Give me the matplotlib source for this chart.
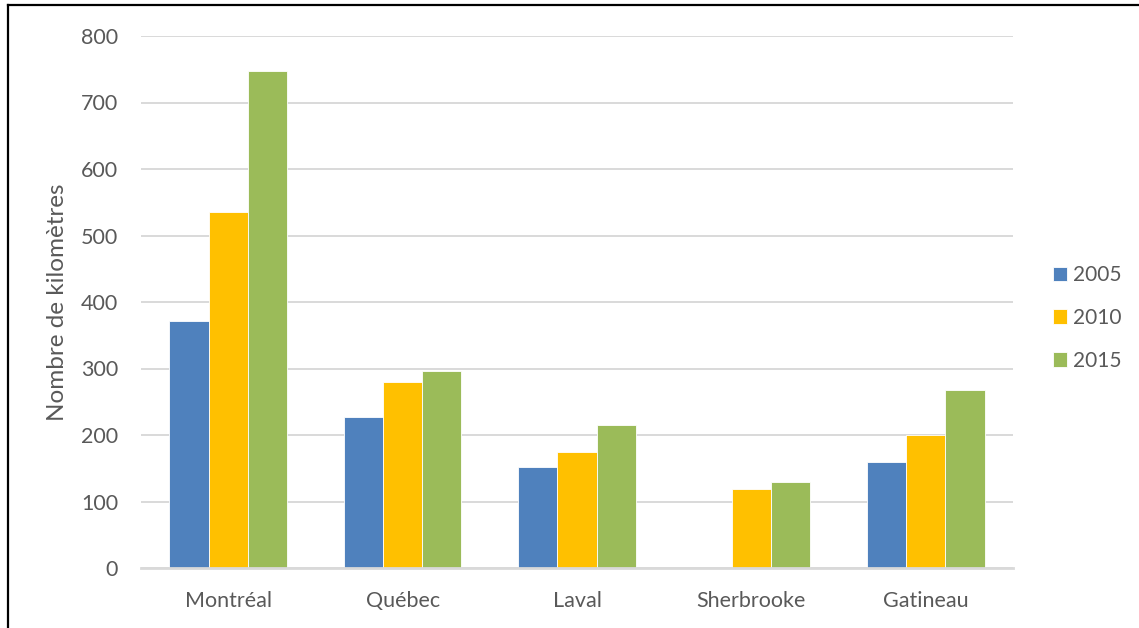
import matplotlib
matplotlib.use("Agg")
import matplotlib.pyplot as plt
import numpy as np
from matplotlib.lines import Line2D

cities = ["Montréal", "Québec", "Laval", "Sherbrooke", "Gatineau"]
years = ["2005", "2010", "2015"]
v2005 = [371, 227, 152, 0, 159]
v2010 = [535, 280, 174, 119, 200]
v2015 = [747, 296, 215, 129, 268]
colors = ["#4F81BD", "#FFC000", "#9BBB59"]
yticks = [0, 100, 200, 300, 400, 500, 600, 700, 800]

plt.rcParams['font.family'] = ['Lato', 'DejaVu Sans']
txt = "#595959"

fig = plt.figure(figsize=(11.39, 6.28), dpi=100)
ax = fig.add_axes([141/1139, 1-568/628, (1013-141)/1139, (568-36)/628])

x = np.arange(len(cities))
w = 0.225
for i, (vals, c, lab) in enumerate(zip([v2005, v2010, v2015], colors, years)):
    ax.bar(x + (i-1)*w, vals, width=w, color=c, label=lab, edgecolor="white", linewidth=0.6, zorder=3)

ax.set_xlim(-0.5, len(cities)-0.5)
ax.set_ylim(0, 800)
ax.set_yticks(yticks)
ax.set_yticklabels([str(t) for t in yticks])
ax.set_xticks(x)
ax.set_xticklabels(cities)
ax.tick_params(axis='both', length=0, labelsize=15.5, colors=txt)
ax.tick_params(axis='y', pad=16.5)
ax.tick_params(axis='x', pad=16.5)
ax.grid(axis='y', color="#D9D9D9", linewidth=1.4, zorder=0)
for s in ["top", "right", "left"]:
    ax.spines[s].set_visible(False)
ax.spines["bottom"].set_color("#D9D9D9")
ax.spines["bottom"].set_linewidth(2)
ax.spines["bottom"].set_zorder(4)
ax.set_ylabel("Nombre de kilomètres", fontsize=17.5, color=txt, labelpad=9)

leg = ax.legend(loc="center left", bbox_to_anchor=(1034/1139, 1-318/628), bbox_transform=fig.transFigure,
                frameon=False, fontsize=15, handlelength=0.7, handleheight=0.7,
                handletextpad=0.25, labelspacing=1.1)
for t in leg.get_texts():
    t.set_color(txt)

# outer border (left and top edges visible in the reference)
fig.add_artist(Line2D([8/1139, 8/1139], [0, 1-5/628], transform=fig.transFigure, color="black", linewidth=1.6))
fig.add_artist(Line2D([8/1139, 1], [1-5/628, 1-5/628], transform=fig.transFigure, color="black", linewidth=1.6))

fig.savefig("out.png", dpi=100)
